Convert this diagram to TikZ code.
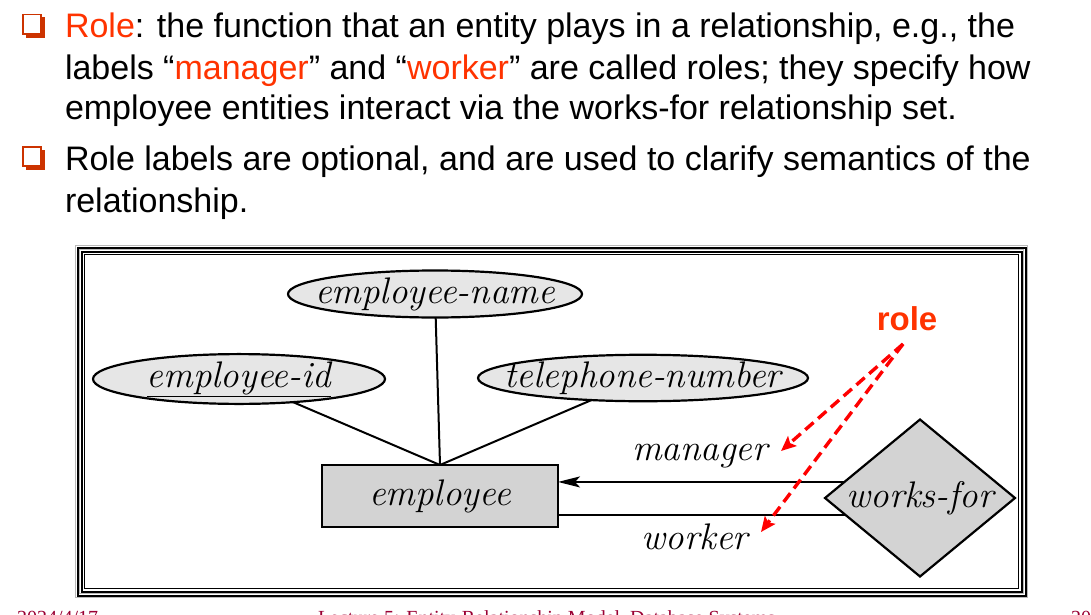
\documentclass[tikz,border=0pt]{standalone}
\usepackage{fontspec}
\usetikzlibrary{shapes.geometric,arrows.meta}
\newfontfamily\arialfont{Liberation Sans}
\newfontfamily\timesfont{Liberation Serif}
\definecolor{rolered}{HTML}{FF3300}
\definecolor{bulletred}{HTML}{CC3300}
\definecolor{footred}{HTML}{990033}
\definecolor{attrgray}{HTML}{E6E6E6}
\definecolor{entgray}{HTML}{D3D3D3}
\definecolor{arrowred}{HTML}{FF0000}
\begin{document}
\begin{tikzpicture}[x=1pt,y=-1pt,
  every node/.style={inner sep=0pt, outer sep=0pt},
  bodytext/.style={font=\arialfont\fontsize{34}{40}\selectfont, anchor=base west},
  erfont/.style={font=\itshape\fontsize{37}{42}\selectfont},
  attr/.style={ellipse, draw=black, line width=2.2pt, fill=attrgray, erfont},
  entity/.style={rectangle, draw=black, line width=2.2pt, fill=entgray, erfont},
  relship/.style={diamond, draw=black, line width=2.2pt, fill=entgray, erfont},
  rolelabel/.style={erfont},
  conn/.style={draw=black, line width=2pt},
  rolearrow/.style={draw=arrowred, line width=3.4pt, dash pattern=on 11pt off 6pt,
    -{Stealth[length=15pt,width=13pt,inset=3pt]}},
  footer/.style={font=\timesfont\fontsize{20}{24}\selectfont, text=footred, anchor=base west}
]
\useasboundingbox (0,0) rectangle (1091,615);

% ---- bullet points ----
\newcommand{\qbullet}[1]{%
  \fill[bulletred] (25.5,#1+3.5) rectangle (45,#1+24);
  \filldraw[fill=white, draw=bulletred, line width=1.5pt] (22.75,#1+0.75) rectangle (41,#1+20);
}
\qbullet{14}
\qbullet{146}
\node[bodytext] (line1) at (65,38) {\textcolor{rolered}{Role}: the function that an entity plays in a relationship, e.g., the};
\node[bodytext] (line2) at (65,80) {labels “\textcolor{rolered}{manager}” and “\textcolor{rolered}{worker}” are called roles; they specify how};
\node[bodytext] (line3) at (65,120) {employee entities interact via the works-for relationship set.};
\node[bodytext] (line4) at (65,170) {Role labels are optional, and are used to clarify semantics of the};
\node[bodytext] (line5) at (65,212) {relationship.};

% ---- framed E-R diagram ----
\draw[gray!55, line width=1pt]  (75.5,245.5) rectangle (1027.5,597.5);
\draw[black, line width=2pt]    (77.5,247.5) rectangle (1025.5,595.5);
\draw[gray!55, line width=1pt]  (79.5,249.5) rectangle (1023.5,593.5);
\draw[black, line width=2pt]    (81.5,251.5) rectangle (1021.5,591.5);
\draw[black, line width=1.2pt]  (84.5,254.5) rectangle (1018.5,588.5);

\node[attr, minimum width=294pt, minimum height=45pt] (ename) at (435,294) {\makebox[0pt]{employee-name}};
\node[attr, minimum width=292pt, minimum height=48pt] (eid) at (239,379) {\makebox[0pt]{\underline{employee-id}}};
\node[attr, minimum width=330pt, minimum height=46pt] (tel) at (643,378) {\makebox[0pt]{telephone-number}};
\node[entity, minimum width=236pt, minimum height=62pt] (emp) at (440,496) {\makebox[0pt]{employee}};
\node[relship, minimum width=190pt, minimum height=157pt] (wf) at (920,498) {\makebox[0pt]{works-for}};

\draw[conn] (ename) -- (emp.north);
\draw[conn] (eid) -- (emp.north);
\draw[conn] (tel) -- (emp.north);

\draw[conn, -{Stealth[length=22pt,width=11pt,inset=5pt]}] (wf.168) -- (wf.168 -| emp.east);
\draw[conn] (wf.193.5) -- (wf.193.5 -| emp.east);

\node[rolelabel] (mgr) at (700,456) {manager};
\node[rolelabel] (wkr) at (695,537) {worker};

\node[font=\arialfont\bfseries\fontsize{33}{38}\selectfont, text=rolered] (role) at (907,319) {role};
\coordinate (rolefoot) at (903,344);
\coordinate (mgrtip) at (781,451);
\coordinate (wkrtip) at (761,532);
\draw[rolearrow] (rolefoot) -- (mgrtip);
\draw[rolearrow] (rolefoot) -- (wkrtip);

% ---- page footer ----
\node[footer] (fdate) at (17,624.5) {2024/4/17};
\node[footer] (ftitle) at (318,624.5) {Lecture 5: Entity-Relationship Model, Database Systems};
\node[footer] (fpage) at (1071,624.5) {20};
\end{tikzpicture}
\end{document}
